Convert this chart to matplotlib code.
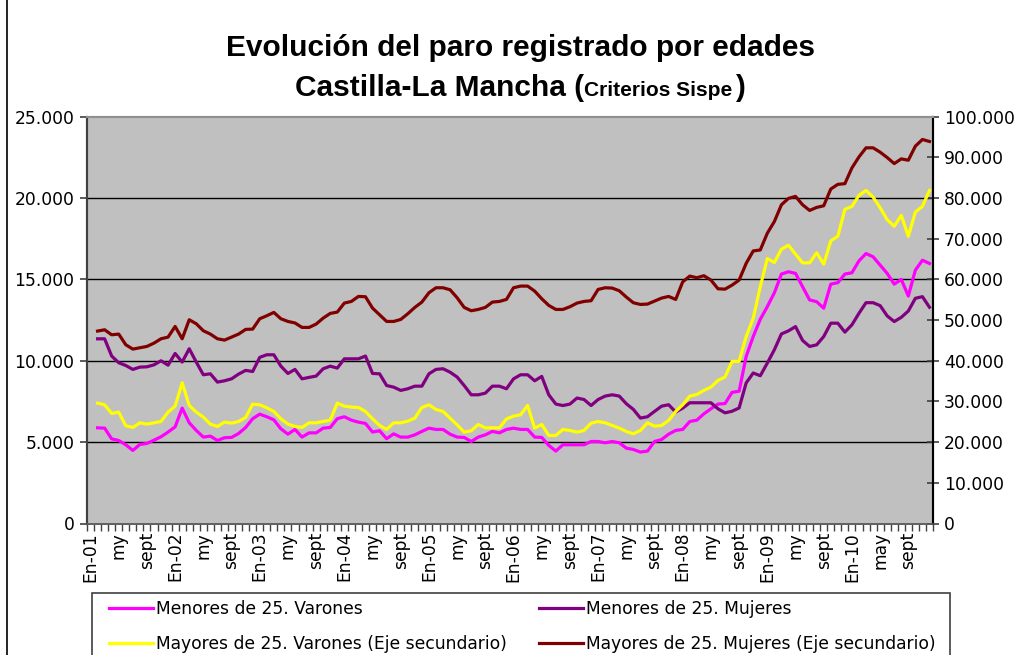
import matplotlib
matplotlib.use("Agg")
import matplotlib.pyplot as plt
from matplotlib.lines import Line2D
from matplotlib.patches import Rectangle
from matplotlib.ticker import FuncFormatter, FixedLocator

plt.rcParams['font.family'] = ['Liberation Sans', 'DejaVu Sans']
TICK_FONT = 'DejaVu Sans'

# ---- data (monthly, categories En-01 .. dic-10; series start at 2nd category) ----
tick_labels = ["En-01", "my", "sept", "En-02", "my", "sept", "En-03", "my", "sept",
               "En-04", "my", "sept", "En-05", "my", "sept", "En-06", "my", "sept",
               "En-07", "my", "sept", "En-08", "my", "sept", "En-09", "my", "sept",
               "En-10", "may", "sept"]
n_categories = 120

menores_varones = [5880, 5860, 5200, 5100, 4840, 4490, 4860, 4920, 5120, 5330, 5620, 5940, 7090, 6190, 5720,
                   5310, 5370, 5100, 5270, 5290, 5530, 5900, 6440, 6720, 6560, 6370, 5820, 5490, 5780,
                   5310, 5570, 5570, 5860, 5900, 6440, 6560, 6350, 6230, 6150, 5620, 5700, 5210, 5510, 5310,
                   5310, 5450, 5660, 5860, 5780, 5780, 5490, 5310, 5290, 5040, 5310, 5450, 5660, 5570, 5780,
                   5860, 5780, 5780, 5310, 5290, 4800, 4450, 4840, 4840, 4840, 4840, 5040, 5040, 4960, 5040,
                   4960, 4630, 4550, 4390, 4450, 5040, 5160, 5490, 5720, 5780, 6270, 6350, 6740, 7050, 7340,
                   7370, 8060, 8130, 10270, 11490, 12550, 13330, 14180, 15330, 15470, 15370, 14550, 13740,
                   13630, 13230, 14710, 14800, 15330, 15410, 16140, 16590, 16390, 15880, 15370, 14710, 15000,
                   13980, 15570, 16180, 15980]

menores_mujeres = [11350, 11350, 10290, 9880, 9710, 9470, 9610, 9630, 9750, 10000, 9730, 10450, 9920, 10740,
                   9920, 9140, 9200, 8690, 8770, 8890, 9180, 9410, 9340, 10210, 10370, 10370, 9670, 9220, 9470,
                   8890, 8980, 9060, 9510, 9670, 9550, 10120, 10120, 10120, 10290, 9220, 9200, 8480, 8380, 8180,
                   8280, 8440, 8440, 9200, 9470, 9510, 9300, 9000, 8480, 7910, 7910, 8010, 8440, 8440, 8280,
                   8890, 9140, 9140, 8770, 9040, 7910, 7340, 7250, 7340, 7710, 7620, 7250, 7620, 7830, 7910,
                   7830, 7360, 7010, 6480, 6560, 6890, 7210, 7300, 6850, 7090, 7420, 7420, 7420, 7420, 7050,
                   6800, 6900, 7100, 8640, 9250, 9080, 9860, 10680, 11650, 11840, 12100, 11250, 10880, 10980,
                   11490, 12310, 12310, 11760, 12210, 12920, 13570, 13570, 13390, 12760, 12410, 12670, 13060,
                   13840, 13940, 13290]

mayores_varones = [29590, 29180, 27050, 27380, 24020, 23610, 24750, 24430, 24750, 25080, 27380, 28850, 34590,
                   29020, 27380, 26150, 24430, 23850, 24920, 24670, 25080, 26070, 29340, 29180, 28440, 27540,
                   25740, 24430, 23850,
                   23610, 24750, 24750, 25080, 25410, 29590, 28850, 28610, 28520, 27540, 25740, 24100, 23120,
                   24750, 24750, 25160, 25900, 28520, 29180, 28030, 27540, 25900, 24260, 22460, 22790, 24340,
                   23520, 23520, 23520, 25700,
                   26390, 26720, 29020, 23440, 24340, 21640, 21640, 23120, 22870, 22460, 22870, 24670, 25080,
                   24750, 24100, 23440, 22620, 22050, 22870, 24750, 23930, 24100, 25330, 27540, 29180, 31310,
                   31720, 32710, 33530, 35160,
                   36010, 39850, 39850, 45970, 50450, 58210, 65140, 64160, 67430, 68410, 66200, 64080, 64080,
                   66530, 63750, 69470, 70610, 77220, 77950, 80650, 81870, 80240, 77630, 74690, 73060, 75750,
                   70610, 76570, 77950, 81870]

mayores_mujeres = [47300, 47620, 46390, 46560, 43940, 42870, 43200, 43530, 44340, 45410, 45820, 48440, 45410,
                   50080, 49100, 47380, 46560, 45410, 45080, 45820, 46560, 47710, 47790, 50330, 51070, 51890,
                   50330, 49670, 49300,
                   48200, 48200, 49020, 50490, 51640, 51970, 54180, 54590, 55820, 55740, 52950, 51310, 49670,
                   49670, 50160, 51560, 53120, 54430, 56720, 57950, 57950, 57460, 55490, 53120, 52300, 52620,
                   53120, 54430, 54590, 55080,
                   57950, 58360, 58360, 57130, 55250, 53610, 52620, 52620, 53280, 54180, 54590, 54760, 57540,
                   57950, 57870, 57210, 55660, 54260, 53850, 53940, 54670, 55410, 55820, 55080, 59400,
                   60820, 60410, 60910, 59840, 57700, 57610, 58600, 59840, 63950, 67000, 67240, 71360, 74240,
                   78350, 79920, 80410, 78350, 76960, 77700, 78110, 82220, 83370, 83540, 87410, 90120, 92350,
                   92350, 91280, 89960, 88480, 89630, 89300, 92760, 94400, 93910]

series_names = ["Menores de 25. Varones", "Menores de 25. Mujeres",
                "Mayores de 25. Varones (Eje secundario)", "Mayores de 25. Mujeres (Eje secundario)"]
colors = ["#FF00FF", "#800080", "#FFFF00", "#800000"]

# ---- figure ----
W, H = 1024, 655
fig = plt.figure(figsize=(W / 100, H / 100), dpi=100)
fig.patch.set_facecolor("white")

def fx(px):
    return px / W

def fy(py):
    return 1 - py / H

ax_l, ax_r, ax_t, ax_b = 87, 933, 116.7, 523.5
ax = fig.add_axes([fx(ax_l), fy(ax_b), fx(ax_r) - fx(ax_l), fy(ax_t) - fy(ax_b)])
ax.set_facecolor("#C0C0C0")
ax2 = ax.twinx()

x_vals = list(range(1, 1 + len(menores_varones)))

l1, = ax.plot(x_vals, menores_varones, color=colors[0], lw=2.3, solid_joinstyle='round')
l2, = ax.plot(x_vals, menores_mujeres, color=colors[1], lw=2.3, solid_joinstyle='round')
l3, = ax2.plot(x_vals, mayores_varones, color=colors[2], lw=2.3, solid_joinstyle='round')
l4, = ax2.plot(x_vals, mayores_mujeres, color=colors[3], lw=2.3, solid_joinstyle='round')

ax.set_xlim(-0.5, n_categories - 0.5)
ax.set_ylim(0, 25000)
ax2.set_ylim(0, 100000)

for y in [5000, 10000, 15000, 20000]:
    ax.axhline(y, color="black", lw=1.0, zorder=1)

thousands = FuncFormatter(lambda v, p: "0" if v == 0 else f"{int(v):,}".replace(",", "."))
ax.yaxis.set_major_locator(FixedLocator([0, 5000, 10000, 15000, 20000, 25000]))
ax.yaxis.set_major_formatter(thousands)
ax2.yaxis.set_major_locator(FixedLocator(list(range(0, 100001, 10000))))
ax2.yaxis.set_major_formatter(thousands)

TS = 12.3
ax.tick_params(axis='y', direction='out', length=5, width=1.2, color='#404040',
               labelsize=TS, pad=4)
ax2.tick_params(axis='y', direction='inout', length=8, width=1.2, color='#404040',
                labelsize=TS, pad=4)

label_pos = list(range(0, n_categories, 4))
ax.set_xticks(label_pos)
ax.set_xticklabels(tick_labels, rotation=90, fontsize=TS)
ax.tick_params(axis='x', which='major', length=0, pad=6)
ax.set_xticks([i - 0.5 for i in range(n_categories + 1)], minor=True)
ax.tick_params(axis='x', which='minor', direction='out', length=5, width=1, color='#404040')
for t in ax.get_xticklabels() + ax.get_yticklabels() + ax2.get_yticklabels():
    t.set_fontfamily(TICK_FONT)

for a in (ax, ax2):
    a.spines['left'].set_color('#404040')
    a.spines['left'].set_linewidth(1.5)
    a.spines['bottom'].set_color('#606060')
    a.spines['bottom'].set_linewidth(1.2)
    a.spines['top'].set_color('#909090')
    a.spines['top'].set_linewidth(1.5)
    a.spines['right'].set_color('black')
    a.spines['right'].set_linewidth(1.5)
ax.set_zorder(ax2.get_zorder() - 1)
ax2.patch.set_visible(False)
ax.patch.set_visible(True)

# ---- title ----
TF = 21.5
fig.text(0.508, fy(56), "Evolución del paro registrado por edades", ha='center', va='baseline',
         fontsize=TF, fontweight='bold')
renderer = fig.canvas.get_renderer()
parts = [("Castilla-La Mancha (", TF), ("Criterios Sispe", 15), (")", TF)]
tobjs = []
widths = []
for s, fs in parts:
    t = fig.text(0, fy(96), s, ha='left', va='baseline', fontsize=fs, fontweight='bold')
    bb = t.get_window_extent(renderer=renderer)
    tobjs.append(t)
    widths.append(bb.width)
gap = 3
x0 = 0.508 * W - (sum(widths) + gap) / 2
for t, w in zip(tobjs, widths):
    t.set_x(x0 / W)
    x0 += w + (gap if t is tobjs[1] else 0)

# ---- legend ----
fig.add_artist(Rectangle((fx(92), fy(700)), fx(950) - fx(92), fy(593) - fy(700),
                         transform=fig.transFigure, facecolor='white', edgecolor='#404040', lw=1.2,
                         clip_on=False))
leg_kw = dict(frameon=False, handlelength=2.6, handletextpad=0.17, labelspacing=1.0,
              borderaxespad=0, borderpad=0, prop={'family': TICK_FONT, 'size': 12.3})
leg1 = fig.legend([l1, l3], [series_names[0], series_names[2]], loc='upper left',
                  bbox_to_anchor=(fx(109), fy(600)), **leg_kw)
leg2 = fig.legend([l2, l4], [series_names[1], series_names[3]], loc='upper left',
                  bbox_to_anchor=(fx(539), fy(600)), **leg_kw)

# chart area border (left edge visible)
fig.add_artist(Line2D([fx(7), fx(7)], [0, 1], transform=fig.transFigure, color='black', lw=1.2))

fig.savefig("out.png", dpi=100)
